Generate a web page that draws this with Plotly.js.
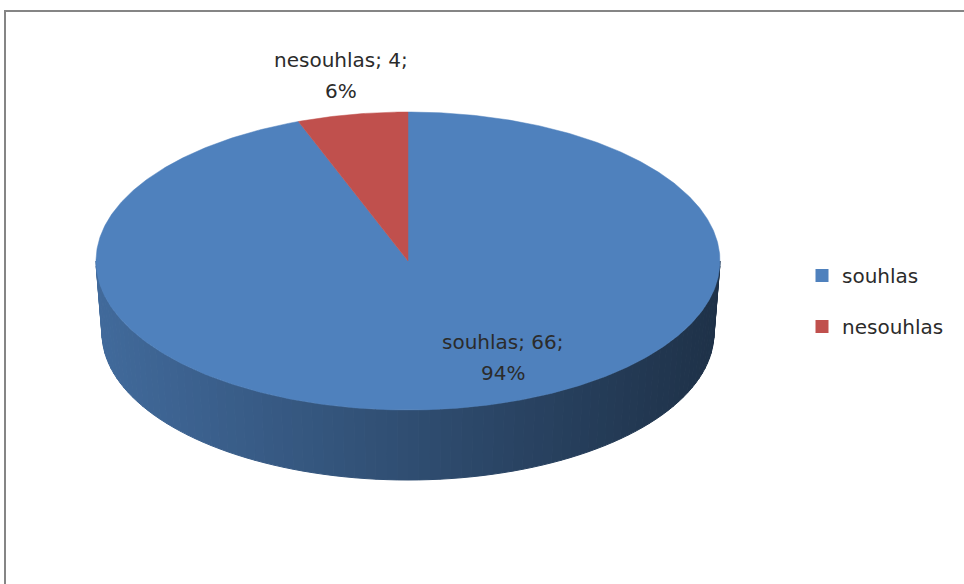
<!DOCTYPE html>
<html>
<head>
<meta charset="utf-8">
<script src="https://cdn.plot.ly/plotly-3.0.1.min.js"></script>
<style>
  html, body { margin: 0; padding: 0; background: #ffffff; }
  #chart { width: 964px; height: 584px; }
</style>
</head>
<body>
<div id="chart"></div>
<script>
// Survey answers
const categories = ['souhlas', 'nesouhlas'];
const counts = [66, 4];
const sliceColors = ['#4F81BD', '#C0504D'];

// Pie drawing geometry (pixel units of the full-size hidden axes)
const W = 964, H = 584;
const geom = { cx: 408, cy: 261, rx: 312, ry: 149, depth: 72, rxBottom: 306, ryBottom: 147 };
// Where each data label sits: [center x, first line y, second line y]
const labelPos = [[503, 342, 373], [341, 60, 91]];

const total = counts.reduce((a, b) => a + b, 0);
const pct = counts.map(v => Math.round(v / total * 100));

// Point on an ellipse, angle measured clockwise from 12 o'clock
function ell(phiDeg, cx, cy, a, b) {
  const r = phiDeg * Math.PI / 180;
  return [cx + a * Math.sin(r), cy - b * Math.cos(r)];
}

// Start / end angles of each slice (first slice starts at the top, clockwise)
const bounds = [];
let acc = 0;
counts.forEach(v => {
  const a0 = acc / total * 360;
  acc += v;
  bounds.push([a0, acc / total * 360]);
});

function sliceAt(phi) {
  const p = ((phi % 360) + 360) % 360;
  for (let i = 0; i < bounds.length; i++) if (p >= bounds[i][0] && p <= bounds[i][1]) return i;
  return 0;
}

function shade(hex, f) {
  const n = parseInt(hex.slice(1), 16);
  const r = Math.round(((n >> 16) & 255) * f);
  const g = Math.round(((n >> 8) & 255) * f);
  const b = Math.round((n & 255) * f);
  return `rgb(${r},${g},${b})`;
}

const traces = [];

// Front wall of the disc: thin strips from the right edge round to the left edge,
// darker towards the right
const bottomCy = geom.cy + geom.depth;
const step = 2;
for (let phi = 90; phi < 270; phi += step) {
  const p0 = phi, p1 = phi + step;
  const t0 = ell(p0, geom.cx, geom.cy, geom.rx, geom.ry);
  const t1 = ell(p1, geom.cx, geom.cy, geom.rx, geom.ry);
  const b1 = ell(p1, geom.cx, bottomCy, geom.rxBottom, geom.ryBottom);
  const b0 = ell(p0, geom.cx, bottomCy, geom.rxBottom, geom.ryBottom);
  const mid = (p0 + p1) / 2;
  const s = Math.sin(mid * Math.PI / 180); // +1 right, -1 left
  const f = 0.60 - 0.22 * s;
  const col = shade(sliceColors[sliceAt(mid)], f);
  traces.push({
    type: 'scatter', mode: 'lines', fill: 'toself',
    x: [t0[0], t1[0], b1[0], b0[0], t0[0]],
    y: [t0[1], t1[1], b1[1], b0[1], t0[1]],
    fillcolor: col, line: { color: col, width: 1 },
    hoverinfo: 'skip', showlegend: false
  });
}

// Top face slices
bounds.forEach((b, i) => {
  const xs = [geom.cx], ys = [geom.cy];
  const n = Math.max(2, Math.ceil((b[1] - b[0]) / 0.5));
  for (let k = 0; k <= n; k++) {
    const p = ell(b[0] + (b[1] - b[0]) * k / n, geom.cx, geom.cy, geom.rx, geom.ry);
    xs.push(p[0]); ys.push(p[1]);
  }
  xs.push(geom.cx); ys.push(geom.cy);
  traces.push({
    type: 'scatter', mode: 'lines', fill: 'toself',
    x: xs, y: ys, fillcolor: sliceColors[i],
    line: { color: sliceColors[i], width: 0.5 },
    name: categories[i], hoverinfo: 'name', showlegend: false
  });
});

// Legend entries
categories.forEach((c, i) => {
  traces.push({
    type: 'scatter', mode: 'markers', x: [null], y: [null],
    name: c, legendgroup: c,
    marker: { symbol: 'square', size: 13, color: sliceColors[i] },
    showlegend: true
  });
});

const font = { family: 'DejaVu Sans, sans-serif', size: 20, color: '#2b2b2b' };

// Data labels: "category; count;" and the share below it
const annotations = [];
categories.forEach((c, i) => {
  annotations.push({
    x: labelPos[i][0], y: labelPos[i][1], xref: 'x', yref: 'y',
    text: `${c}; ${counts[i]};`, showarrow: false, font: font,
    xanchor: 'center', yanchor: 'middle'
  });
  annotations.push({
    x: labelPos[i][0], y: labelPos[i][2], xref: 'x', yref: 'y',
    text: `${pct[i]}%`, showarrow: false, font: font,
    xanchor: 'center', yanchor: 'middle'
  });
});

const hidden = { showgrid: false, zeroline: false, showticklabels: false, showline: false, ticks: '', fixedrange: true };

const layout = {
  width: W, height: H,
  margin: { l: 0, r: 0, t: 0, b: 0, pad: 0 },
  paper_bgcolor: '#ffffff', plot_bgcolor: '#ffffff',
  xaxis: Object.assign({ range: [0, W], domain: [0, 1] }, hidden),
  yaxis: Object.assign({ range: [H, 0], domain: [0, 1] }, hidden),
  showlegend: true,
  legend: {
    x: 802 / W, xanchor: 'left', y: 1 - 301 / H, yanchor: 'middle',
    font: font, traceorder: 'grouped', tracegroupgap: 22,
    bgcolor: 'rgba(0,0,0,0)', borderwidth: 0
  },
  annotations: annotations,
  shapes: [{
    type: 'rect', xref: 'x', yref: 'y', x0: 5, y0: 11, x1: W + 20, y1: H + 20,
    line: { color: '#858585', width: 2 }, fillcolor: 'rgba(0,0,0,0)', layer: 'below'
  }]
};

Plotly.newPlot('chart', traces, layout, { displayModeBar: false, staticPlot: true });
</script>
</body>
</html>
